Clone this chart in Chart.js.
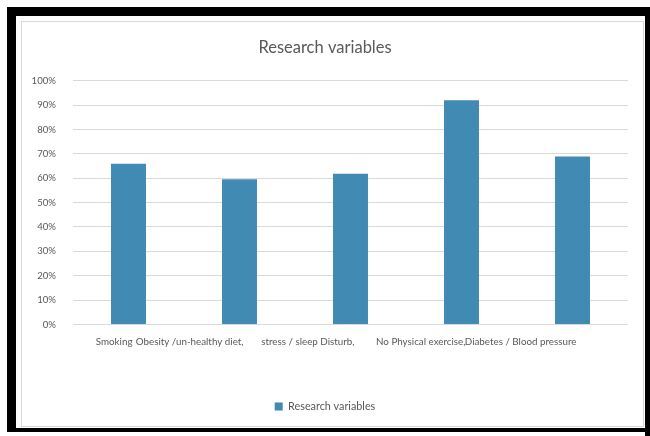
<!DOCTYPE html>
<html>
<head>
<meta charset="utf-8">
<script src="https://cdn.jsdelivr.net/npm/chart.js@4/dist/chart.umd.min.js"></script>
<style>
  html, body { margin: 0; padding: 0; background: #fff; }
  #page { position: relative; width: 650px; height: 436px; overflow: hidden; background: #fff; }
  #frame {
    position: absolute; left: 7px; top: 7px; width: 650px; height: 425px;
    border-left: 9px solid #000; border-top: 9px solid #000; border-bottom: 4px solid #000;
    box-sizing: border-box;
  }
  #frame-right { position: absolute; left: 645px; top: 7px; width: 5px; height: 429px; background: #000; }
  #box {
    position: absolute; left: 21px; top: 21px; width: 623px; height: 406px;
    border: 1px solid #d9d9d9; box-sizing: border-box; background: #fff;
  }
  #wrap { position: absolute; left: 22px; top: 22px; width: 620px; height: 403px; }
</style>
</head>
<body>
<div id="page">
  <div id="frame"></div>
  <div id="frame-right"></div>
  <div id="box"></div>
  <div id="wrap"><canvas id="chart"></canvas></div>
</div>
<script>
const categories = ['Smoking', 'Obesity /un-healthy diet,', 'stress / sleep Disturb,', 'No Physical exercise,', 'Diabetes / Blood pressure'];
const researchValues = [66, 59.6, 61.8, 92, 68.9];
const yTicks = [0, 10, 20, 30, 40, 50, 60, 70, 80, 90, 100];

const TEXT = '#595959';
const GRID = '#d9d9d9';
const BAR = '#418ab3';

function injectChart () {
  const $CHART = document.getElementById('chart');

  new Chart($CHART, {
    type: 'bar',
    data: {
      labels: categories,
      datasets: [{
        label: 'Research variables',
        data: researchValues,
        backgroundColor: BAR,
        borderWidth: 0,
        categoryPercentage: 1,
        barPercentage: 0.315
      }]
    },
    options: {
      responsive: true,
      maintainAspectRatio: false,
      animation: false,
      layout: {
        padding: { top: 16, right: 14, bottom: 3, left: 0 }
      },
      scales: {
        x: {
          afterFit: (scale) => { scale.height = scale.height + 31; },
          grid: { display: false, drawTicks: false },
          border: { display: false },
          ticks: {
            color: TEXT,
            font: { family: 'Lato', size: 9.8 },
            padding: 12,
            align: 'end',
            labelOffset: 4,
            maxRotation: 0,
            autoSkip: false
          }
        },
        y: {
          min: 0,
          max: 100,
          afterFit: (scale) => { scale.width = 51; },
          afterBuildTicks: (scale) => { scale.ticks = yTicks.map(v => ({ value: v })); },
          grid: { color: GRID, lineWidth: 1, drawTicks: false },
          border: { display: false },
          ticks: {
            color: TEXT,
            font: { family: 'Lato', size: 9.6 },
            padding: 17,
            callback: (v) => v + '%'
          }
        }
      },
      plugins: {
        title: {
          display: true,
          text: 'Research variables',
          color: TEXT,
          font: { family: 'Lato', size: 16.5, weight: 'normal' },
          padding: { top: 0, bottom: 23 }
        },
        legend: {
          position: 'bottom',
          labels: {
            color: TEXT,
            font: { family: 'Lato', size: 10.8 },
            boxWidth: 8,
            boxHeight: 8,
            padding: 10
          }
        },
        tooltip: { enabled: false }
      }
    }
  });
};

injectChart()
</script>
</body>
</html>
